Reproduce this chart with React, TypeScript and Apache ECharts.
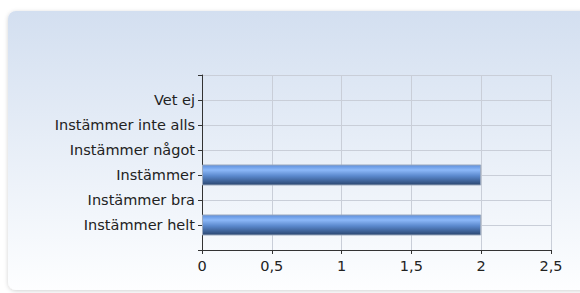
import React, { useEffect, useRef } from "react";
import * as echarts from "echarts";

const categories = ["", "Instämmer helt", "Instämmer bra", "Instämmer", "Instämmer något", "Instämmer inte alls", "Vet ej", ""];
const values: (number | string)[] = ["-", 2, 0, 2, 0, 0, 0, "-"];
const xTicks = [0, 0.5, 1, 1.5, 2, 2.5];

export default function App() {
  const ref = useRef<HTMLDivElement>(null);
  useEffect(() => {
    if (!ref.current) return;
    const chart = echarts.init(ref.current, undefined, { renderer: "svg" });
    const font = "DejaVu Sans, Verdana, sans-serif";
    chart.setOption({
      animation: false,
      backgroundColor: "#ffffff",
      graphic: [
        {
          type: "rect",
          z: -10,
          silent: true,
          shape: { x: 8, y: 11, width: 620, height: 279, r: 8 },
          style: {
            fill: new echarts.graphic.LinearGradient(0, 0, 0, 1, [
              { offset: 0, color: "#d3dff0" },
              { offset: 1, color: "#fdfeff" },
            ]),
            shadowBlur: 4,
            shadowColor: "rgba(0,0,0,0.18)",
            shadowOffsetY: 1,
          },
        },
      ],
      grid: { left: 202, top: 75, width: 349, height: 175, containLabel: false },
      xAxis: {
        type: "value",
        min: 0,
        max: 2.5,
        interval: 0.5,
        axisLine: { show: true, lineStyle: { color: "#333", width: 1 } },
        axisTick: { show: true, length: 4, lineStyle: { color: "#333" } },
        splitLine: { show: true, lineStyle: { color: "#c9ced8", width: 1 } },
        axisLabel: {
          color: "#222",
          fontFamily: font,
          fontSize: 14.5,
          margin: 8,
          formatter: (v: number) => (xTicks.includes(v) ? String(v).replace(".", ",") : ""),
        },
      },
      yAxis: {
        type: "category",
        data: categories,
        boundaryGap: false,
        axisLine: { show: true, lineStyle: { color: "#333", width: 1 } },
        axisTick: { show: true, length: 4, lineStyle: { color: "#333" } },
        splitLine: { show: true, lineStyle: { color: "#c9ced8", width: 1 } },
        axisLabel: { color: "#222", fontFamily: font, fontSize: 14.5, margin: 7 },
      },
      series: [
        {
          type: "bar",
          data: values.map((v) =>
            v === 0 ? { value: v, itemStyle: { borderWidth: 0, opacity: 0 } } : v
          ),
          barWidth: 21,
          itemStyle: {
            borderColor: "#9aa8bd",
            borderWidth: 1,
            color: new echarts.graphic.LinearGradient(0, 0, 0, 1, [
              { offset: 0, color: "#5d8fdc" },
              { offset: 0.25, color: "#8cb8f8" },
              { offset: 0.55, color: "#5a88cc" },
              { offset: 1, color: "#2a4670" },
            ]),
          },
        },
      ],
    });
    return () => chart.dispose();
  }, []);
  return <div ref={ref} style={{ position: "fixed", left: 0, top: 0, width: 580, height: 293 }} />;
}
